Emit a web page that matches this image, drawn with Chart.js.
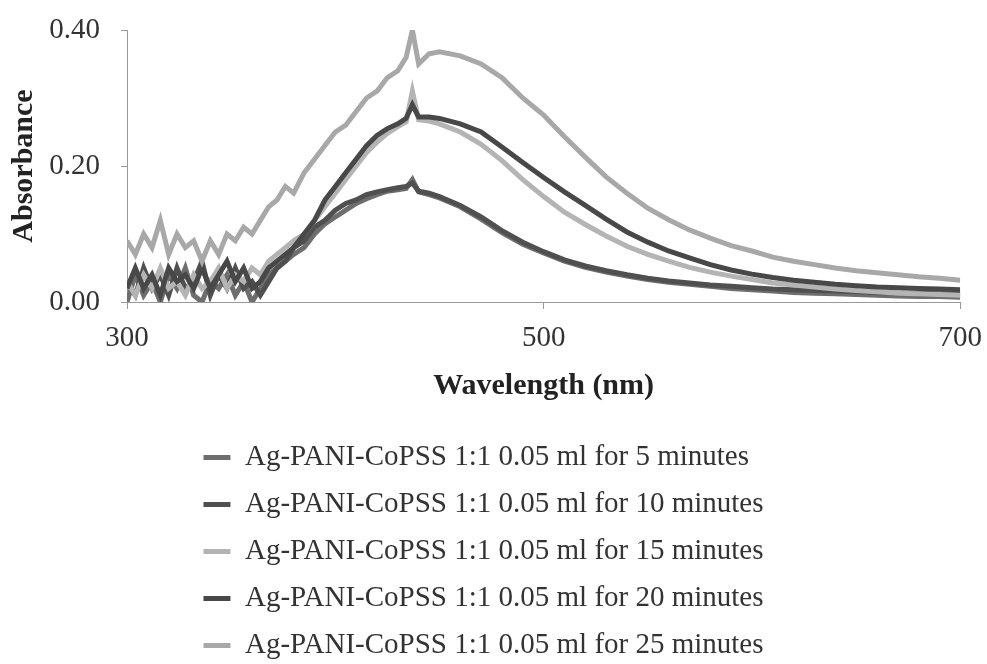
<!DOCTYPE html>
<html>
<head>
<meta charset="utf-8">
<script src="https://cdn.jsdelivr.net/npm/chart.js@4/dist/chart.umd.min.js"></script>
<style>
  html, body { margin: 0; padding: 0; background: #fff; overflow: hidden; }
  #wrap { width: 987px; height: 664px; position: relative; }
</style>
</head>
<body>
<div id="wrap"><canvas id="uvChart"></canvas></div>
<script>
// wavelength (nm), shared by every spectrum
const wavelengths = [
  300, 304, 308, 312, 316, 320, 324, 328, 332, 336, 340, 344, 348, 352, 356, 360, 364, 368, 372, 376, 380,
  385, 390, 395, 400, 405, 410, 415, 420, 425, 430,
  434, 437, 440, 445, 450,
  460, 470, 480, 490, 500, 510, 520, 530, 540, 550, 560, 570, 580, 590, 600,
  610, 620, 630, 640, 650, 660, 670, 680, 690, 700
];

const abs5min = [
  0.00, 0.04, 0.01, 0.03, 0.00, 0.04, 0.02, 0.05, 0.01, 0.00, 0.03, 0.02, 0.04, 0.01, 0.03, 0.00, 0.02, 0.04, 0.05, 0.06, 0.07,
  0.08, 0.10, 0.115, 0.125, 0.135, 0.145, 0.152, 0.158, 0.163, 0.165,
  0.167, 0.18, 0.162, 0.158, 0.153,
  0.14, 0.122, 0.102, 0.085, 0.072, 0.060, 0.051, 0.044, 0.038, 0.033, 0.029, 0.026, 0.023, 0.020, 0.018,
  0.016, 0.014, 0.013, 0.012, 0.011, 0.010, 0.009, 0.008, 0.008, 0.007
];

const abs10min = [
  0.03, 0.01, 0.05, 0.02, 0.04, 0.01, 0.05, 0.02, 0.03, 0.06, 0.01, 0.04, 0.02, 0.05, 0.02, 0.03, 0.01, 0.03, 0.05, 0.06, 0.08,
  0.09, 0.11, 0.12, 0.135, 0.145, 0.15, 0.158, 0.162, 0.165, 0.168,
  0.17, 0.175, 0.163, 0.16, 0.155,
  0.142, 0.125, 0.105, 0.088, 0.074, 0.062, 0.053, 0.046, 0.040, 0.035, 0.031, 0.028, 0.025, 0.023, 0.021,
  0.019, 0.018, 0.017, 0.016, 0.015, 0.014, 0.013, 0.013, 0.012, 0.012
];

const abs15min = [
  0.03, 0.01, 0.04, 0.02, 0.05, 0.02, 0.03, 0.01, 0.04, 0.02, 0.03, 0.05, 0.02, 0.04, 0.03, 0.05, 0.04, 0.06, 0.07, 0.08, 0.09,
  0.10, 0.12, 0.14, 0.16, 0.18, 0.20, 0.22, 0.235, 0.248, 0.258,
  0.265, 0.31, 0.268, 0.266, 0.262,
  0.25, 0.232, 0.208, 0.18, 0.155, 0.132, 0.114, 0.097, 0.082, 0.07, 0.06, 0.051, 0.044, 0.038, 0.033,
  0.028, 0.025, 0.022, 0.019, 0.017, 0.015, 0.013, 0.012, 0.011, 0.010
];

const abs20min = [
  0.02, 0.05, 0.02, 0.04, 0.01, 0.05, 0.03, 0.04, 0.02, 0.05, 0.02, 0.04, 0.06, 0.03, 0.05, 0.02, 0.03, 0.05, 0.06, 0.07, 0.08,
  0.10, 0.12, 0.15, 0.17, 0.19, 0.21, 0.23, 0.245, 0.255, 0.262,
  0.27, 0.29, 0.272, 0.272, 0.27,
  0.262, 0.25, 0.228, 0.205, 0.183, 0.162, 0.142, 0.122, 0.103, 0.088, 0.075, 0.065, 0.055, 0.047, 0.041,
  0.036, 0.032, 0.029, 0.026, 0.024, 0.022, 0.021, 0.020, 0.019, 0.018
];

const abs25min = [
  0.09, 0.07, 0.10, 0.08, 0.12, 0.07, 0.10, 0.08, 0.09, 0.06, 0.09, 0.07, 0.10, 0.09, 0.11, 0.10, 0.12, 0.14, 0.15, 0.17, 0.16,
  0.19, 0.21, 0.23, 0.25, 0.26, 0.28, 0.30, 0.31, 0.33, 0.34,
  0.36, 0.40, 0.35, 0.365, 0.368,
  0.362, 0.35, 0.33, 0.30, 0.275, 0.243, 0.213, 0.184, 0.16, 0.138, 0.121, 0.106, 0.094, 0.083, 0.075,
  0.066, 0.060, 0.055, 0.050, 0.046, 0.043, 0.040, 0.037, 0.035, 0.032
];

// the 5-minute label is one digit shorter; two trailing spaces keep the legend rows left-aligned
const seriesLabels = [
  'Ag-PANI-CoPSS 1:1 0.05 ml for 5 minutes  ',
  'Ag-PANI-CoPSS 1:1 0.05 ml for 10 minutes',
  'Ag-PANI-CoPSS 1:1 0.05 ml for 15 minutes',
  'Ag-PANI-CoPSS 1:1 0.05 ml for 20 minutes',
  'Ag-PANI-CoPSS 1:1 0.05 ml for 25 minutes'
];
const seriesValues = [abs5min, abs10min, abs15min, abs20min, abs25min];
const seriesColors = ['#6e6e6e', '#505050', '#b4b4b4', '#484848', '#a8a8a8'];

const yTicks = [0, 0.2, 0.4];
const xTicks = [300, 500, 700];

const serif = '"Liberation Serif", "Times New Roman", serif';

const datasets = seriesValues.map((vals, i) => ({
  label: seriesLabels[i],
  data: vals.map((v, j) => ({ x: wavelengths[j], y: v })),
  borderColor: seriesColors[i],
  backgroundColor: seriesColors[i],
  borderWidth: 5,
  pointRadius: 0,
  tension: 0,
  order: 5 - i
}));

const ctx = document.getElementById('uvChart').getContext('2d');
new Chart(ctx, {
  type: 'line',
  data: { datasets },
  options: {
    responsive: true,
    maintainAspectRatio: false,
    animation: false,
    layout: { padding: { top: 30, right: 20, bottom: -6, left: 0 } },
    scales: {
      x: {
        type: 'linear',
        min: 300,
        max: 700,
        afterBuildTicks: (axis) => { axis.ticks = xTicks.map(v => ({ value: v })); },
        ticks: {
          color: '#333',
          font: { family: serif, size: 29, lineHeight: 1 },
          padding: 5,
          maxRotation: 0
        },
        // long tick length keeps the labels low, the dash only draws the first 6px
        grid: { drawOnChartArea: false, drawTicks: true, tickLength: 17, color: '#999', tickBorderDash: [6, 100] },
        border: { display: true, color: '#999', dash: [2, 1], width: 1 },
        title: {
          display: true,
          text: 'Wavelength (nm)',
          color: '#222',
          font: { family: serif, size: 30, weight: 'bold', lineHeight: 1 },
          padding: { top: 13, bottom: 24 }
        }
      },
      y: {
        min: 0,
        max: 0.4,
        afterBuildTicks: (axis) => { axis.ticks = yTicks.map(v => ({ value: v })); },
        afterFit: (axis) => { axis.width = 127; },
        ticks: {
          color: '#333',
          font: { family: serif, size: 29, lineHeight: 1 },
          padding: 6,
          callback: (v) => Number(v).toFixed(2)
        },
        grid: { drawOnChartArea: false, drawTicks: true, tickLength: 21, color: '#999', tickBorderDash: [0, 15, 6, 100] },
        border: { display: true, color: '#999', dash: [2, 1], width: 1 },
        title: {
          display: true,
          text: 'Absorbance',
          color: '#222',
          font: { family: serif, size: 30, weight: 'bold', lineHeight: 1 },
          padding: { top: 9, bottom: 0 }
        }
      }
    },
    plugins: {
      legend: {
        display: true,
        position: 'bottom',
        labels: {
          color: '#333',
          font: { family: serif, size: 29 },
          usePointStyle: true,
          pointStyle: 'line',
          pointStyleWidth: 27,
          padding: 18,
          sort: (a, b) => a.datasetIndex - b.datasetIndex
        }
      },
      tooltip: { enabled: false }
    }
  }
});
</script>
</body>
</html>
